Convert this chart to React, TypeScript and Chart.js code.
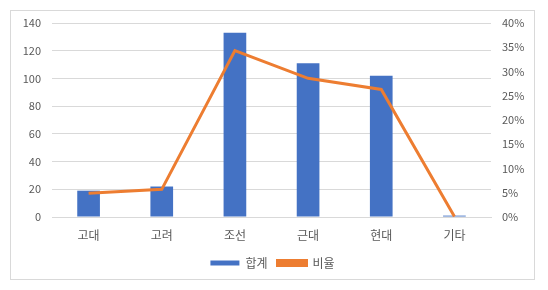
import React, { useEffect, useRef } from "react";
import { Chart, registerables } from "chart.js";

Chart.register(...registerables);

const categories = ["고대", "고려", "조선", "근대", "현대", "기타"];
const totals = [19, 22, 133, 111, 102, 1];
const ratios = [4.9, 5.7, 34.3, 28.6, 26.3, 0.1];
const leftTicks = [0, 20, 40, 60, 80, 100, 120, 140];
const rightTicks = [0, 5, 10, 15, 20, 25, 30, 35, 40];

const FONT = "'Noto Sans CJK KR', 'Noto Sans', sans-serif";
const TEXT = "#595959";
const GRID = "#d9d9d9";

export default function App() {
  const ref = useRef<HTMLCanvasElement | null>(null);
  useEffect(() => {
    if (!ref.current) return;
    const chart = new Chart(ref.current, {
      type: "bar",
      data: {
        labels: categories,
        datasets: [
          {
            type: "bar",
            label: "합계",
            data: totals,
            backgroundColor: "#4472C4",
            borderColor: "#4472C4",
            yAxisID: "y",
            categoryPercentage: 1,
            barPercentage: 0.31,
            order: 2,
          },
          {
            type: "line",
            label: "비율",
            data: ratios,
            borderColor: "#ED7D31",
            backgroundColor: "#ED7D31",
            borderWidth: 3,
            pointRadius: 0,
            tension: 0,
            yAxisID: "y1",
            order: 1,
          },
        ],
      },
      options: {
        animation: false,
        responsive: false,
        maintainAspectRatio: false,
        layout: { padding: { top: 12, left: 0, right: 0, bottom: 0 } },
        plugins: {
          tooltip: { enabled: false },
          legend: {
            position: "bottom",
            labels: {
              font: { family: FONT, size: 12 },
              color: TEXT,
              boxWidth: 29,
              boxHeight: 5,
              padding: 10,
              sort: (a: any, b: any) => a.datasetIndex - b.datasetIndex,
            },
          },
        },
        scales: {
          x: {
            grid: { display: false, drawTicks: false },
            border: { display: true, color: GRID },
            ticks: { font: { family: FONT, size: 12 }, color: TEXT, padding: 11 },
            afterFit: (s: any) => {
              s.height = 30;
            },
          },
          y: {
            position: "left",
            min: 0,
            max: 140,
            afterBuildTicks: (s: any) => {
              s.ticks = leftTicks.map((v) => ({ value: v }));
            },
            grid: { color: GRID, drawTicks: false },
            border: { display: false },
            ticks: { font: { family: FONT, size: 11 }, color: TEXT, padding: 11 },
            afterFit: (s: any) => {
              s.width = 41;
              s.paddingTop = 0;
              s.paddingBottom = 0;
            },
          },
          y1: {
            position: "right",
            min: 0,
            max: 40,
            afterBuildTicks: (s: any) => {
              s.ticks = rightTicks.map((v) => ({ value: v }));
            },
            grid: { display: false, drawTicks: false },
            border: { display: false },
            ticks: {
              font: { family: FONT, size: 11 },
              color: TEXT,
              padding: 11,
              callback: (v: any) => `${v}%`,
            },
            afterFit: (s: any) => {
              s.width = 43;
              s.paddingTop = 0;
              s.paddingBottom = 0;
            },
          },
        },
      },
    });
    return () => chart.destroy();
  }, []);
  return (
    <div style={{ position: "fixed", left: 0, top: 0, width: 548, height: 290, background: "#fff" }}>
      <div
        style={{
          position: "absolute",
          left: 10,
          top: 10,
          width: 525,
          height: 270,
          border: "1px solid #d9d9d9",
          boxSizing: "border-box",
        }}
      >
        <canvas ref={ref} width={523} height={268} style={{ display: "block" }} />
      </div>
    </div>
  );
}
